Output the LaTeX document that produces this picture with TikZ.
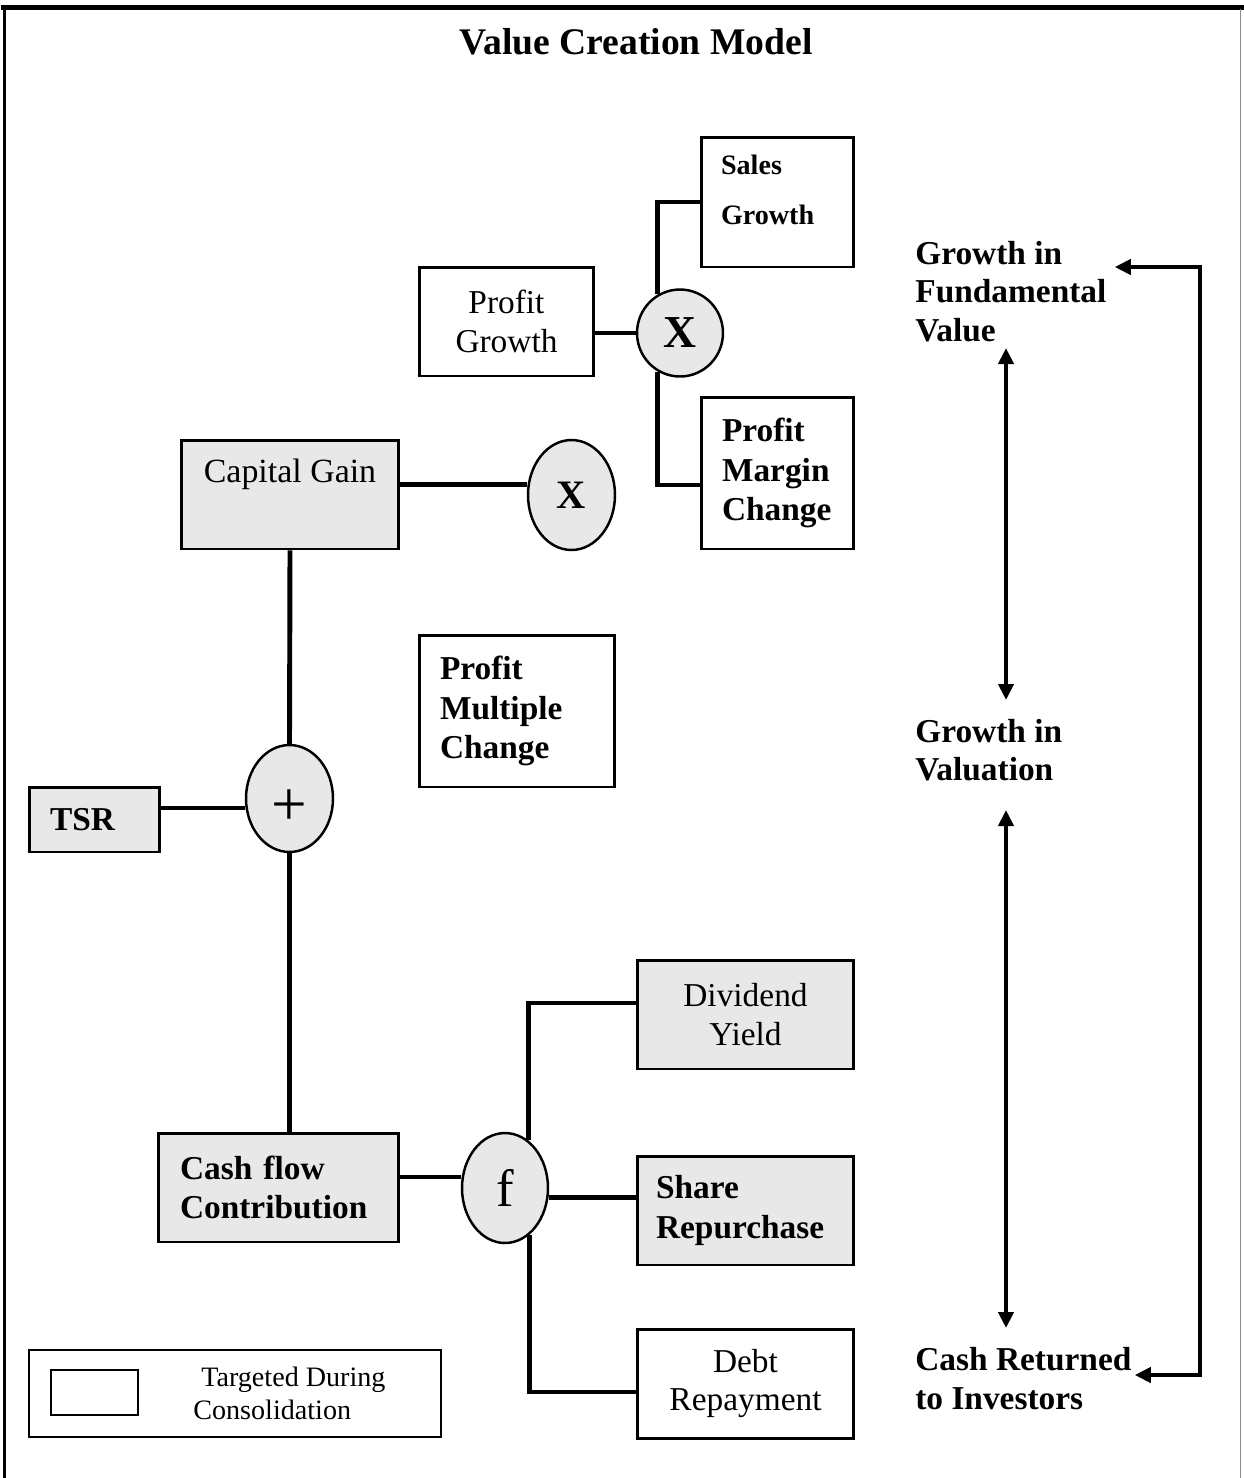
\documentclass[tikz,border=0pt]{standalone}
\usepackage{fontspec}
\setmainfont{Liberation Serif}
\usetikzlibrary{positioning, calc, shapes.geometric, arrows.meta}
\definecolor{panel}{gray}{0.91}
\definecolor{rimgray}{gray}{0.55}

\begin{document}
\begin{tikzpicture}[
    x=0.02cm, y=-0.02cm,
    plainbox/.style={draw, line width=1.7pt, minimum height=2.18cm, inner sep=0pt},
    greybox/.style={plainbox, fill=panel},
    opnode/.style={ellipse, draw, line width=1.4pt, fill=panel, inner sep=0pt},
    reg/.style={font=\fontsize{19}{22}\selectfont},
    heavy/.style={font=\fontsize{19}{22.3}\selectfont\bfseries},
    sidelabel/.style={font=\fontsize{19}{21.8}\selectfont\bfseries, align=left, anchor=west, inner sep=0pt},
    wire/.style={line width=2.8pt},
    twoway/.style={{Triangle[length=0.32cm, width=0.3cm]}-{Triangle[length=0.32cm, width=0.3cm]}, line width=2.8pt}
  ]
  \useasboundingbox (0,0) rectangle (1244,1478);

  % Frame
  \draw[line width=2.5pt] (1,7.5) -- (1244,7.5);
  \draw[line width=1.8pt] (4.5,6) -- (4.5,1478);
  \draw[line width=0.6pt, rimgray] (1240.5,9) -- (1240.5,1478);

  \node[font=\fontsize{21.4}{24}\selectfont\bfseries] (title) at (636,42) {Value Creation Model};

  % Nodes
  \node[plainbox, font=\fontsize{16}{28.3}\selectfont\bfseries, align=left, text width=2.26cm, inner xsep=0.4cm, minimum height=2.6cm, text depth=42pt] (sales) at (777.5,202) {Sales\\Growth};
  \node[plainbox, reg, align=center, minimum width=3.5cm] (pgrowth) at (506.5,321.5) {Profit\\Growth};
  \node[opnode, font=\fontsize{26}{28}\selectfont\bfseries, minimum width=1.72cm, minimum height=1.74cm] (mult1) at (680,333) {X};
  \node[plainbox, heavy, align=left, text width=2.22cm, inner xsep=0.42cm, minimum height=3.04cm] (margin) at (777.5,473) {Profit\\Margin\\Change};

  \node[greybox, font=\fontsize{19.3}{22}\selectfont, minimum width=4.36cm, text depth=27pt] (capgain) at (290,494.5) {Capital Gain};
  \node[opnode, font=\fontsize{23}{26}\selectfont\bfseries, minimum width=1.74cm, minimum height=2.2cm] (mult2) at (571.5,495) {X};
  \node[plainbox, heavy, align=left, text width=3.08cm, inner xsep=0.42cm, minimum height=3.04cm] (multiple) at (517,711) {Profit\\Multiple\\Change};

  \node[opnode, font=\fontsize{36}{38}\selectfont, minimum width=1.74cm, minimum height=2.14cm] (plus) at (289.5,798.5) {\raisebox{-0.18cm}[\height][0pt]{+}};
  \node[greybox, heavy, align=left, text width=1.78cm, inner xsep=0.42cm, minimum height=1.3cm] (tsr) at (94.5,819.5) {TSR};

  \node[greybox, heavy, align=left, text width=3.94cm, inner xsep=0.44cm] (cashflow) at (278.5,1187.5) {Cash flow\\Contribution};
  \node[opnode, font=\fontsize{30}{32}\selectfont, minimum width=1.72cm, minimum height=2.2cm] (fnode) at (505,1188) {f};
  \node[greybox, reg, align=center, minimum width=4.34cm] (dividend) at (745.5,1014.5) {Dividend\\Yield};
  \node[greybox, heavy, align=left, text width=3.58cm, inner xsep=0.38cm] (share) at (745.5,1210.5) {Share\\Repurchase};
  \node[plainbox, reg, align=center, minimum width=4.34cm] (debt) at (745.5,1383.5) {Debt\\Repayment};

  % Legend
  \node[draw, line width=0.8pt, minimum width=8.24cm, minimum height=1.74cm, inner sep=0pt] (legend) at (235,1393.5) {};
  \node[draw, line width=0.8pt, minimum width=1.74cm, minimum height=0.9cm, inner sep=0pt] (swatch) at (94.5,1392.5) {};
  \node[font=\fontsize{16}{18.7}\selectfont, align=left, anchor=west, inner sep=0pt] (legendtext) at (193,1393.5) {\hspace*{0.16cm}Targeted During\\Consolidation};

  % Side labels
  \node[sidelabel] (fundamental) at (915,291.5) {Growth in\\Fundamental\\Value};
  \node[sidelabel] (valuation) at (915,750.5) {Growth in\\Valuation};
  \node[sidelabel] (cashret) at (915,1378.5) {Cash Returned\\to Investors};
  \coordinate (spine) at (1006,0);
  \coordinate (loopx) at (1200,800);

  % Edges
  \draw[wire] (pgrowth.east |- mult1.west) -- (mult1.west);
  \draw[wire] (mult1.120) |- (sales.west);
  \draw[wire] (mult1.240) |- ([yshift=-0.24cm]margin.west);
  \coordinate (capout) at ([yshift=0.2cm]capgain.east);
  \draw[wire] (capout) -- (capout -| mult2.west);
  \draw[wire] (capgain.south) -- (plus.north);
  \draw[wire] (plus.south) -- (plus.south |- cashflow.north);
  \coordinate (tsrout) at ([yshift=0.23cm]tsr.east);
  \draw[wire] (tsrout) -- (tsrout -| plus.west);
  \coordinate (cashout) at ([yshift=0.21cm]cashflow.east);
  \draw[wire] (cashout) -- (cashout -| fnode.west);
  \draw[wire] (fnode.64) |- ([yshift=0.23cm]dividend.west);
  \draw[wire] (fnode.348) -- (fnode.348 -| share.west);
  \draw[wire] (fnode.297) |- ([yshift=-0.17cm]debt.west);

  \draw[twoway] ($(fundamental.center -| spine)+(0,56.5)$) -- ($(valuation.center -| spine)+(0,-50.5)$);
  \draw[twoway] ($(valuation.center -| spine)+(0,59.5)$) -- ($(cashret.center -| spine)+(0,-50.5)$);
  \draw[twoway] ($(fundamental.east)+(8,-24.5)$) -| (loopx) |- ($(cashret.east)+(3,-3.5)$);
\end{tikzpicture}
\end{document}
